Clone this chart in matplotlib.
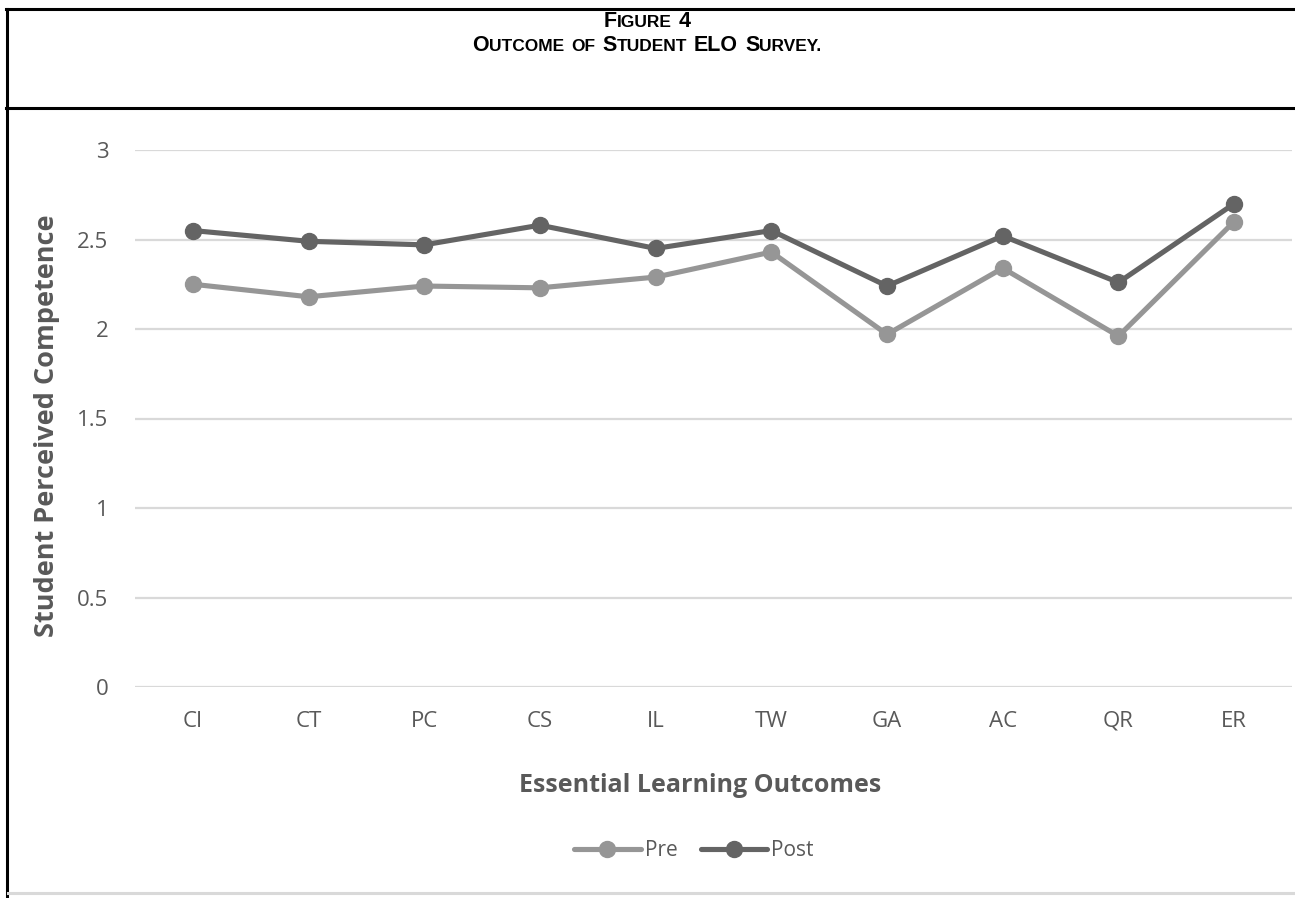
import matplotlib
matplotlib.use("Agg")
import matplotlib.pyplot as plt
from matplotlib.lines import Line2D

# Data
categories = ["CI", "CT", "PC", "CS", "IL", "TW", "GA", "AC", "QR", "ER"]
pre = [2.25, 2.18, 2.24, 2.23, 2.29, 2.43, 1.97, 2.34, 1.96, 2.60]
post = [2.55, 2.49, 2.47, 2.58, 2.45, 2.55, 2.24, 2.52, 2.26, 2.70]
y_ticks = [0, 0.5, 1, 1.5, 2, 2.5, 3]
y_tick_labels = ["0", "0.5", "1", "1.5", "2", "2.5", "3"]

W, H = 1295, 898
text_grey = "#595959"
grid_grey = "#d9d9d9"

plt.rcParams["font.family"] = ["Open Sans", "DejaVu Sans"]

fig = plt.figure(figsize=(W / 100, H / 100), dpi=100)

def px_x(x):
    return x / W

def px_y(y):
    return 1 - y / H

# Plot area
ax = fig.add_axes([px_x(135), px_y(687), px_x(1292) - px_x(135), px_y(150) - px_y(687)])
x = list(range(len(categories)))
ax.plot(x, pre, color="#969696", lw=3.7, marker="o", ms=11.5, label="Pre",
        solid_capstyle="round")
ax.plot(x, post, color="#646464", lw=3.7, marker="o", ms=11.5, label="Post",
        solid_capstyle="round")

ax.set_xlim(-0.5, len(categories) - 0.5)
ax.set_ylim(0, 3)
ax.set_yticks(y_ticks)
ax.set_yticklabels(y_tick_labels)
ax.set_xticks(x)
ax.set_xticklabels(categories)
ax.tick_params(length=0, labelsize=16, colors=text_grey)
ax.tick_params(axis="y", pad=19)
ax.tick_params(axis="x", pad=17)
ax.grid(axis="y", color=grid_grey, lw=1.6)
ax.set_axisbelow(True)
for s in ax.spines.values():
    s.set_visible(False)

fig.text(px_x(47), px_y(426), "Student Perceived Competence", rotation=90,
         ha="center", va="center", fontsize=19.5, fontweight="bold", color=text_grey)
fig.text(px_x(700), px_y(785), "Essential Learning Outcomes",
         ha="center", va="center", fontsize=18, fontweight="bold", color=text_grey)

leg = fig.legend(loc="center", bbox_to_anchor=(px_x(694), px_y(851)), ncol=2,
                 frameon=False, fontsize=15, handlelength=3.2, handletextpad=0.2,
                 columnspacing=1.1, labelcolor=text_grey)

# Box lines round the figure
lines = [
    ((6, 1295), (9, 9), "black", 2.2),
    ((6, 1295), (108, 108), "black", 2.2),
    ((7, 7), (9, 898), "black", 2.2),
    ((8, 1295), (893, 893), grid_grey, 2.2),
]
for xs, ys, c, lw in lines:
    fig.add_artist(Line2D([px_x(xs[0]), px_x(xs[1])], [px_y(ys[0]), px_y(ys[1])],
                          transform=fig.transFigure, color=c, lw=lw))

# Header in small caps
head_font = "Liberation Sans"

big, small = 15.5, 12.5
header = [
    (27, [("F", big), ("IGURE", small), (" ", small), ("4", big)]),
    (51, [("O", big), ("UTCOME", small), (" ", small), ("OF", small), (" ", small),
          ("S", big), ("TUDENT", small), (" ", small), ("ELO", big), (" ", small),
          ("S", big), ("URVEY.", small)]),
]
renderer = fig.canvas.get_renderer()
space_w = 7
for y, parts in header:
    items = []
    total = 0
    for s, size in parts:
        if s == " ":
            items.append((None, space_w))
            total += space_w
            continue
        t = fig.text(0, px_y(y), s, fontsize=size, fontweight="bold",
                     family=head_font, ha="left", va="baseline", color="black")
        w = t.get_window_extent(renderer).width
        items.append((t, w))
        total += w
    cur = 647 - total / 2
    for t, w in items:
        if t is not None:
            t.set_x(px_x(cur))
        cur += w

fig.savefig("out.png", dpi=100)
